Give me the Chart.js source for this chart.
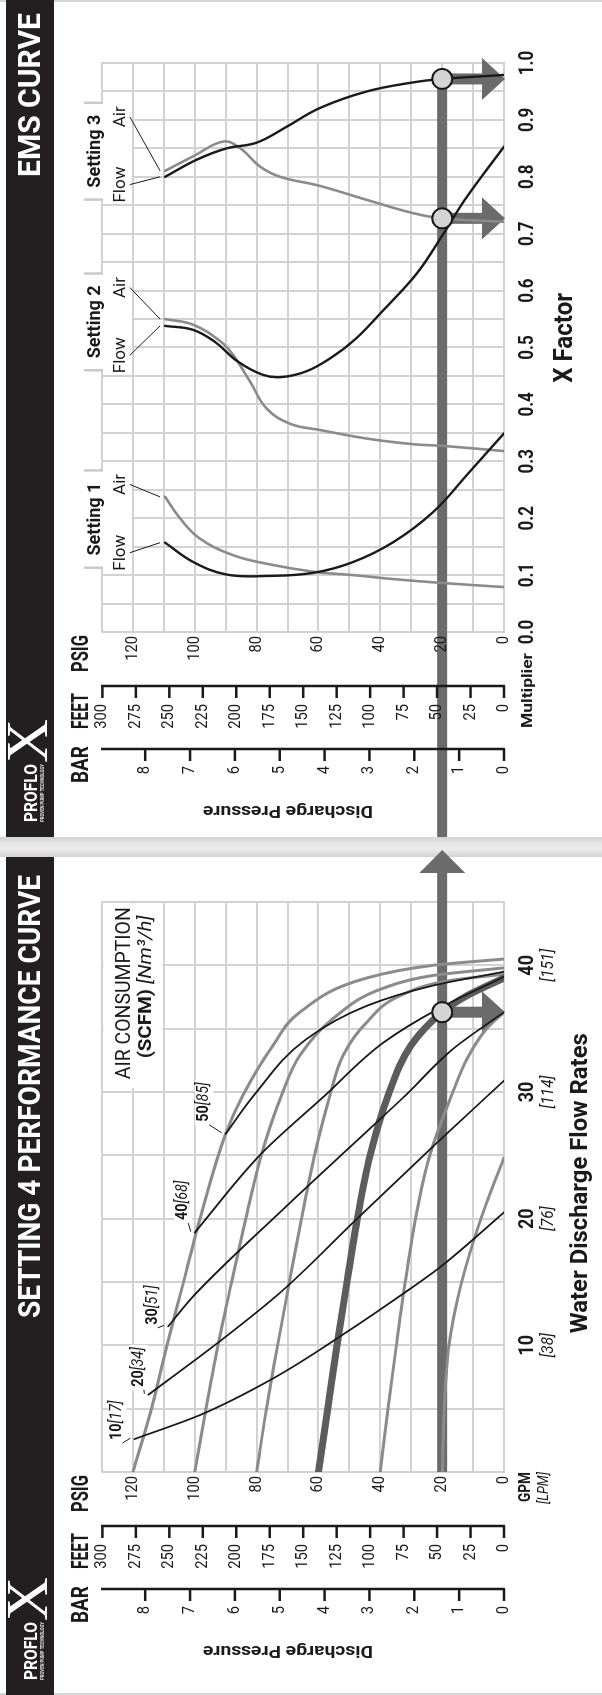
<!DOCTYPE html>
<html>
<head>
<meta charset="utf-8">
<script src="https://cdn.jsdelivr.net/npm/chart.js@4.4.0/dist/chart.umd.min.js"></script>
<style>
  html, body { margin: 0; padding: 0; background: #fff; width: 602px; height: 1695px; overflow: hidden; }
  /* the brochure spread is laid out landscape and turned a quarter left */
  #wrap { position: absolute; left: 0; top: 0; width: 1695px; height: 602px; background: #fff;
          transform-origin: 0 0; transform: translate(0, 1695px) rotate(-90deg); }
  #gap { position: absolute; left: 838px; top: 0; width: 20px; height: 602px;
         background: linear-gradient(to right, #d2d2d2, #e9e9e9 35%, #e9e9e9 65%, #d2d2d2); }
  .edge { position: absolute; top: 0; width: 2px; height: 602px; background: #d6d6d6; }
  canvas { position: absolute; top: 0; }
</style>
</head>
<body>
<div id="wrap">
  <div id="gap"></div>
  <div class="edge" style="left:0"></div>
  <div class="edge" style="left:1693px"></div>
  <canvas id="perf" width="858" height="602" style="left:0"></canvas>
  <canvas id="ems" width="837" height="602" style="left:858px"></canvas>
</div>
<script>
// ---- axis ticks ----
const psiTicks = [0, 20, 40, 60, 80, 100, 120];
const feetTicks = [0, 25, 50, 75, 100, 125, 150, 175, 200, 225, 250, 275, 300];
const barTicks = [0, 1, 2, 3, 4, 5, 6, 7, 8];
const gpmTicks = [10, 20, 30, 40];
const lpmTicks = ["[38]", "[76]", "[114]", "[151]"];
const xFactorTicks = [0, 0.1, 0.2, 0.3, 0.4, 0.5, 0.6, 0.7, 0.8, 0.9, 1.0];

// ---- Setting 4 performance: [GPM, PSIG] ----
const air120 = [[0, 120], [5, 114], [10, 109], [14.2, 104.5], [20, 98.3], [26.7, 90], [29.7, 84.5], [33.7, 74.6], [36.3, 66], [39, 44.4], [40, 23], [40.5, 0]];
const air100 = [[0, 100], [5, 96.4], [10, 92.5], [14.2, 88.8], [20, 83.5], [25, 78.5], [29.7, 72], [32.9, 66], [35.8, 55.3], [38.2, 39], [39.2, 23], [39.8, 0]];
const air80 = [[0, 80], [5, 76.8], [10, 73.2], [14.2, 70], [20, 65.5], [25, 61.3], [29.7, 56.3], [32.9, 52], [35.5, 44.4], [37.6, 33.6], [38.8, 17.5], [39.3, 0]];
const air60 = [[0, 60], [5, 57], [10, 54], [14.2, 51.3], [20, 47.4], [25, 43.3], [29.7, 37.5], [33.7, 30], [36.3, 20], [37.6, 12], [39, 0]];
const air40 = [[0, 40], [5, 37.5], [10, 34.8], [14.2, 32.4], [20, 28.6], [25, 24], [29.7, 17], [32.6, 12], [35, 5.6], [36.3, 0]];
const air20 = [[0, 20], [5, 19.3], [10, 17.8], [14.2, 14.5], [18.5, 9.5], [22, 4.5], [24.8, 0]];

const scfm10 = [[2.6, 119.5], [4.5, 98.3], [7.4, 74.6], [10.7, 53], [14.35, 31], [16.3, 20], [20.5, 0]];
const scfm20 = [[6.1, 115], [10.3, 92], [14.2, 72.2], [20, 47.5], [25.8, 22.5], [30.9, 0]];
const scfm30 = [[11.5, 108.6], [14, 100], [21, 70.3], [27.6, 41.2], [29.7, 32], [33.4, 16.5], [36.3, 0]];
const scfm40 = [[18.9, 100], [25, 79], [29.7, 58], [33.9, 39], [36.6, 21], [39.1, 0]];
const scfm50 = [[26.7, 90], [29.7, 81], [34.2, 63.8], [36.8, 44.4], [38.4, 23], [39.5, 0]];
const scfmLabels = [["10", "[17]"], ["20", "[34]"], ["30", "[51]"], ["40", "[68]"], ["50", "[85]"]];
const perfMarkers = [[36.3, 20]];

// ---- EMS curve: [X factor, PSIG] ----
const s1Flow = [[0.157, 109.6], [0.123, 100.5], [0.101, 89.7], [0.0985, 76.8], [0.104, 61.7], [0.123, 48.8], [0.158, 35.8], [0.211, 22.9], [0.276, 12], [0.349, 0]];
const s1Air = [[0.2375, 109.6], [0.2, 104.8], [0.164, 98.3], [0.135, 87.6], [0.12, 76.8], [0.106, 61.7], [0.1, 48.8], [0.093, 35.8], [0.086, 19.6], [0.079, 0]];
const s2Flow = [[0.538, 109.6], [0.531, 100.5], [0.51, 93.5], [0.475, 86], [0.452, 78], [0.448, 72], [0.458, 64], [0.48, 56.5], [0.515, 48], [0.56, 40], [0.63, 28.2], [0.70, 19.6], [0.765, 12], [0.853, 0]];
const s2Air = [[0.55, 109.6], [0.54, 100.5], [0.51, 91.5], [0.487, 87.6], [0.44, 82.1], [0.393, 76.8], [0.366, 69.2], [0.355, 59.5], [0.34, 44.4], [0.33, 29.3], [0.327, 19.6], [0.318, 0]];
const s3Flow = [[0.80, 109.6], [0.83, 99.4], [0.85, 89.7], [0.86, 80], [0.888, 70.3], [0.921, 59.5], [0.95, 44.4], [0.966, 29.3], [0.972, 20], [0.979, 0]];
const s3Air = [[0.8105, 109.6], [0.836, 100.5], [0.862, 90.8], [0.8505, 85.4], [0.818, 78.9], [0.80, 72.4], [0.784, 59.5], [0.7595, 44.4], [0.736, 29.3], [0.727, 20], [0.721, 0]];
const settingNames = ["Setting 1", "Setting 2", "Setting 3"];
const settingZones = [[0.113, 0.284], [0.46, 0.63], [0.76, 0.93]];
const emsMarkers = [[0.972, 20], [0.727, 20]];

const FT_PER_PSI = 2.31;
const PSI_PER_BAR = 14.5038;

// ---- look ----
const F = '"Roboto", "Liberation Sans", sans-serif';
const SERIF = '"Liberation Serif", "DejaVu Serif", serif';
const INK = "#1a1a1a";
const GRAY = "#8b8b8b";
const GRID = "#d2d2d2";
const THICK = "#6b6b6b";

function txt(ctx, s, x, y, font, opt = {}) {
  ctx.save();
  ctx.font = font;
  ctx.fillStyle = opt.color || INK;
  ctx.textBaseline = opt.base || "middle";
  ctx.translate(x, y);
  if (opt.rot) ctx.rotate(opt.rot);
  const w = ctx.measureText(s).width;
  const sx = opt.width ? opt.width / w : (opt.sx || 1);
  ctx.scale(sx, 1);
  const al = opt.align || "left";
  ctx.fillText(s, al === "left" ? 0 : al === "right" ? -w : -w / 2, 0);
  ctx.restore();
  return w * sx;
}

function runsWidth(ctx, parts) {
  let total = 0;
  parts.forEach(([s, f]) => { ctx.font = f; total += ctx.measureText(s).width; });
  return total;
}

function runs(ctx, parts, x, y, opt = {}) {
  const total = runsWidth(ctx, parts);
  const sx = opt.width ? opt.width / total : (opt.sx || 1);
  ctx.save();
  ctx.fillStyle = opt.color || INK;
  ctx.textBaseline = "middle";
  ctx.translate(x, y);
  ctx.scale(sx, 1);
  let cx = opt.align === "center" ? -total / 2 : opt.align === "right" ? -total : 0;
  parts.forEach(([s, f]) => { ctx.font = f; ctx.fillText(s, cx, 0); cx += ctx.measureText(s).width; });
  ctx.restore();
}

function seg(ctx, x1, y1, x2, y2, w, c) {
  ctx.save();
  ctx.strokeStyle = c;
  ctx.lineWidth = w;
  ctx.beginPath();
  ctx.moveTo(x1, y1);
  ctx.lineTo(x2, y2);
  ctx.stroke();
  ctx.restore();
}

function tri(ctx, pts, c) {
  ctx.save();
  ctx.fillStyle = c;
  ctx.beginPath();
  ctx.moveTo(pts[0], pts[1]);
  ctx.lineTo(pts[2], pts[3]);
  ctx.lineTo(pts[4], pts[5]);
  ctx.closePath();
  ctx.fill();
  ctx.restore();
}

function pageFrame(ctx, pageW, title, titleRight, titleW) {
  ctx.save();
  ctx.fillStyle = "#231f20";
  ctx.fillRect(0, 6, pageW, 48);
  ctx.restore();
  txt(ctx, title, titleRight, 40, "bold 32px " + F, { align: "right", width: titleW, color: "#fff", base: "alphabetic" });
  // logo
  txt(ctx, "PROFLO", 15, 37, "bold 18px " + F, { width: 58, color: "#fff", base: "alphabetic" });
  txt(ctx, "PROVEN PUMP TECHNOLOGY", 15, 43.5, "bold 5px " + F, { width: 58, color: "#e6e6e6", base: "alphabetic" });
  txt(ctx, "X", 96, 31, "60px " + SERIF, { align: "center", width: 44, color: "#fff" });
}

function drawGrid(chart, xStep, xCount) {
  const { ctx, chartArea: a } = chart;
  const xs = chart.scales.x, ys = chart.scales.y;
  ctx.save();
  ctx.strokeStyle = GRID;
  ctx.lineWidth = 2;
  ctx.lineCap = "square";
  ctx.beginPath();
  for (let i = 0; i <= xCount; i++) {
    const px = Math.round(xs.getPixelForValue(i * xStep));
    ctx.moveTo(px, a.top);
    ctx.lineTo(px, a.bottom);
  }
  for (let p = 0; p <= 130; p += 10) {
    const py = Math.round(ys.getPixelForValue(p));
    ctx.moveTo(a.left, py);
    ctx.lineTo(a.right, py);
  }
  ctx.stroke();
  ctx.restore();
}

function pressureAxes(chart) {
  const ctx = chart.ctx, L = chart.chartArea.left, ys = chart.scales.y;
  const top = ys.getPixelForValue(130), bot = ys.getPixelForValue(0);
  const fx = L - 54, bx = L - 117;
  psiTicks.forEach(p => txt(ctx, String(p), L - 4, ys.getPixelForValue(p), "16px " + F, { align: "right", sx: 0.92 }));

  seg(ctx, fx, top - 1, fx, bot + 1, 2.5, INK);
  feetTicks.forEach(f => {
    const py = ys.getPixelForValue(f / FT_PER_PSI);
    seg(ctx, fx, py, fx - 12, py, 2.5, INK);
    txt(ctx, String(f), fx - 18, py, "16px " + F, { align: "right", sx: 0.92 });
  });

  seg(ctx, bx, top - 1, bx, bot + 1, 2.5, INK);
  barTicks.forEach(b => {
    const py = ys.getPixelForValue(b * PSI_PER_BAR);
    seg(ctx, bx, py, bx - 12, py, 2.5, INK);
    txt(ctx, String(b), bx - 17, py, "16px " + F, { align: "right", sx: 0.92 });
  });

  txt(ctx, "PSIG", L - 3, 82, "bold 23px " + F, { align: "right", width: 37 });
  txt(ctx, "FEET", fx - 7, 82, "bold 23px " + F, { align: "right", width: 36 });
  txt(ctx, "BAR", bx + 3, 82, "bold 23px " + F, { align: "right", width: 37 });
  txt(ctx, "Discharge Pressure", L - 178, 288, "bold 17px " + F,
      { align: "center", rot: -Math.PI / 2, width: 170 });
}

function markerArrow(chart, mx, my) {
  const ctx = chart.ctx, a = chart.chartArea;
  const base = a.bottom - 22;
  ctx.save();
  ctx.fillStyle = THICK;
  ctx.fillRect(mx - 5.5, my, 11, base - my + 1);
  ctx.restore();
  tri(ctx, [mx - 21, base, mx + 21, base, mx, a.bottom + 1], THICK);
}

function curve(pts, color, width, order, mono) {
  const ds = {
    data: pts.map(([x, y]) => ({ x, y })),
    borderColor: color, borderWidth: width, pointRadius: 0, tension: 0.4,
    fill: false, order, borderCapStyle: "round", borderJoinStyle: "round"
  };
  if (mono) ds.cubicInterpolationMode = "monotone";
  return ds;
}

function markers(pts) {
  return {
    data: pts.map(([x, y]) => ({ x, y })),
    showLine: false, pointRadius: 10, pointBackgroundColor: "#d4d4d4",
    pointBorderColor: INK, pointBorderWidth: 2, order: 0
  };
}

function options(xMax, pad) {
  return {
    responsive: false,
    animation: false,
    events: [],
    layout: { padding: pad },
    scales: {
      x: { type: "linear", min: 0, max: xMax, display: false },
      y: { type: "linear", min: 0, max: 130, display: false },
    },
    plugins: { legend: { display: false }, tooltip: { enabled: false } },
  };
}

// ---------- Setting 4 performance curve ----------
const scfmSeries = [scfm10, scfm20, scfm30, scfm40, scfm50];
const scfmLabelOffset = [[-1, -17], [8, -9.5], [1.5, -15.5], [12.5, -11.5], [12, -21.5]];

const perfDecor = {
  id: "perfDecor",
  beforeDraw(chart) {
    pageFrame(chart.ctx, 838, "SETTING 4 PERFORMANCE CURVE", 820, 443);
  },
  beforeDatasetsDraw(chart) {
    const { ctx, chartArea: a } = chart;
    const xs = chart.scales.x, ys = chart.scales.y;
    drawGrid(chart, 5, 9);

    // air consumption caption
    const bx = xs.getPixelForValue(30.3);
    ctx.fillStyle = "#fff";
    ctx.fillRect(bx, a.top + 1.5, a.right - 1.5 - bx, ys.getPixelForValue(110) - 1.5 - (a.top + 1.5));
    txt(ctx, "AIR CONSUMPTION", xs.getPixelForValue(37.8), a.top + 23, "21px " + F, { align: "center", width: 172 });
    runs(ctx, [["(SCFM) ", "bold 19px " + F], ["[Nm\u00b3/h]", "italic 19px " + F]],
         xs.getPixelForValue(38.3), a.top + 44, { align: "center", width: 143 });

    // labels of the air consumption lines
    scfmSeries.forEach((s, i) => {
      const sx = xs.getPixelForValue(s[0][0]), sy = ys.getPixelForValue(s[0][1]);
      const lx = sx + scfmLabelOffset[i][0], ly = sy + scfmLabelOffset[i][1];
      const parts = [[scfmLabels[i][0], "bold 16px " + F], [scfmLabels[i][1], "italic 16px " + F]];
      const w = runsWidth(ctx, parts) * 0.9;
      ctx.fillStyle = "#fff";
      ctx.fillRect(lx - 4, ly - 9, w + 6, 18);
      runs(ctx, parts, lx, ly, { sx: 0.9 });
      seg(ctx, lx - 3, ly + 5, sx + 1, sy - 4, 1, INK);
    });

    // 20 psig line running across to the EMS page
    const y20 = ys.getPixelForValue(20), x0 = xs.getPixelForValue(0);
    ctx.fillStyle = THICK;
    ctx.fillRect(x0, y20 - 5, 822 - x0, 10);
    tri(ctx, [822, y20 - 23, 845, y20, 822, y20 + 23], THICK);
    perfMarkers.forEach(([gx, p]) => markerArrow(chart, xs.getPixelForValue(gx), ys.getPixelForValue(p)));
  },
  afterDraw(chart) {
    const { ctx, chartArea: a } = chart;
    const xs = chart.scales.x;
    pressureAxes(chart);
    gpmTicks.forEach((g, i) => {
      const px = xs.getPixelForValue(g);
      txt(ctx, String(g), px, a.bottom + 24, "bold 20px " + F, { align: "center", sx: 0.9 });
      txt(ctx, lpmTicks[i], px, a.bottom + 45, "italic 17px " + F, { align: "center", sx: 0.9 });
    });
    txt(ctx, "GPM", a.left, a.bottom + 22, "bold 16px " + F, { align: "right", width: 30 });
    txt(ctx, "[LPM]", a.left, a.bottom + 40, "italic 15px " + F, { align: "right", width: 32 });
    txt(ctx, "Water Discharge Flow Rates", xs.getPixelForValue(22.8), a.bottom + 77, "bold 24px " + F,
        { align: "center", width: 300 });
  },
};

new Chart(document.getElementById("perf"), {
  type: "line",
  data: {
    datasets: [
      markers(perfMarkers),
      curve(scfm10, INK, 1.8, 1, true),
      curve(scfm20, INK, 1.8, 1, true),
      curve(scfm30, INK, 1.8, 1, true),
      curve(scfm40, INK, 1.8, 1, true),
      curve(scfm50, INK, 1.8, 1, true),
      curve(air60, "#5c5c5c", 7, 2, true),
      curve(air120, GRAY, 3, 3, true),
      curve(air100, GRAY, 3, 3, true),
      curve(air80, GRAY, 3, 3, true),
      curve(air40, GRAY, 3, 3, true),
      curve(air20, GRAY, 3, 3, true),
    ],
  },
  options: options(45, { left: 223, right: 65, top: 102, bottom: 98 }),
  plugins: [perfDecor],
});

// ---------- EMS curve ----------
const emsStarts = [[s1Flow, s1Air], [s2Flow, s2Air], [s3Flow, s3Air]];

const emsDecor = {
  id: "emsDecor",
  beforeDraw(chart) {
    pageFrame(chart.ctx, 837, "EMS CURVE", 824, 164);
  },
  beforeDatasetsDraw(chart) {
    const { ctx, chartArea: a } = chart;
    const xs = chart.scales.x, ys = chart.scales.y;
    drawGrid(chart, 0.05, 20);

    const labelY = ys.getPixelForValue(124);
    settingZones.forEach(([z0, z1], i) => {
      const p0 = xs.getPixelForValue(z0), p1 = xs.getPixelForValue(z1);
      ctx.fillStyle = "#fff";
      ctx.fillRect(p0, a.top - 2, p1 - p0, ys.getPixelForValue(120) - 1 - (a.top - 2));
      seg(ctx, p0, a.top - 18, p0, a.top + 1, 2.5, "#c9c9c9");
      seg(ctx, p1, a.top - 18, p1, a.top + 1, 2.5, "#c9c9c9");
      txt(ctx, settingNames[i], (p0 + p1) / 2, a.top - 2, "bold 18px " + F, { align: "center", base: "alphabetic" });

      const [flow, air] = emsStarts[i];
      const fl = p0 + 15, al = p1 - 14;
      txt(ctx, "Flow", fl, labelY, "17px " + F, { align: "center" });
      txt(ctx, "Air", al, labelY, "17px " + F, { align: "center" });
      const lead = ys.getPixelForValue(121);
      seg(ctx, fl, lead, xs.getPixelForValue(flow[0][0]), ys.getPixelForValue(flow[0][1]) - 5, 1, INK);
      seg(ctx, al, lead, xs.getPixelForValue(air[0][0]), ys.getPixelForValue(air[0][1]) - 5, 1, INK);
    });

    // 20 psig line coming in from the performance page
    const y20 = ys.getPixelForValue(20);
    const reach = Math.max(...emsMarkers.map(m => xs.getPixelForValue(m[0])));
    ctx.fillStyle = THICK;
    ctx.fillRect(0, y20 - 5, reach, 10);
    emsMarkers.forEach(([x, p]) => markerArrow(chart, xs.getPixelForValue(x), ys.getPixelForValue(p)));
  },
  afterDraw(chart) {
    const { ctx, chartArea: a } = chart;
    const xs = chart.scales.x;
    pressureAxes(chart);
    xFactorTicks.forEach(t => {
      txt(ctx, t.toFixed(1), xs.getPixelForValue(t), a.bottom + 24, "bold 20px " + F, { align: "center", sx: 0.85 });
    });
    txt(ctx, "Multiplier", a.left - 21, a.bottom + 24, "bold 15px " + F, { align: "right", width: 75 });
    txt(ctx, "X Factor", xs.getPixelForValue(0.517), a.bottom + 62, "bold 25px " + F, { align: "center", width: 90 });
  },
};

new Chart(document.getElementById("ems"), {
  type: "line",
  data: {
    datasets: [
      markers(emsMarkers),
      curve(s1Flow, INK, 2.4, 1),
      curve(s2Flow, INK, 2.4, 1),
      curve(s3Flow, INK, 2.4, 1),
      curve(s1Air, GRAY, 2.6, 2),
      curve(s2Air, GRAY, 2.6, 2),
      curve(s3Air, GRAY, 2.6, 2),
    ],
  },
  options: options(1.0, { left: 205, right: 63, top: 102, bottom: 98 }),
  plugins: [emsDecor],
});
</script>
</body>
</html>
